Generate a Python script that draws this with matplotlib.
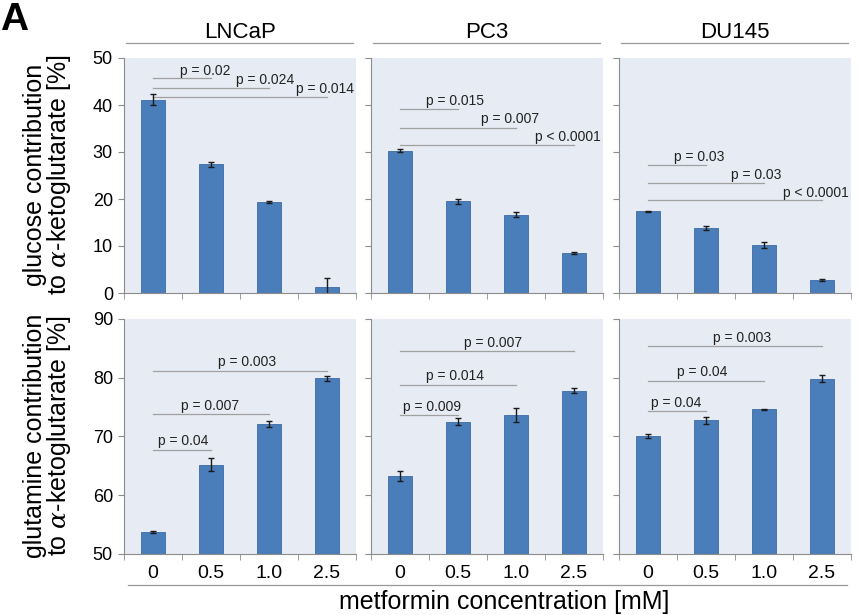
#import libraries
import numpy as np
import matplotlib
matplotlib.use("Agg")
import matplotlib.pyplot as plt
from matplotlib.lines import Line2D

plt.rcParams['font.family'] = ['Liberation Sans', 'DejaVu Sans']
plt.rcParams['mathtext.fontset'] = 'custom'
plt.rcParams['mathtext.it'] = 'DejaVu Serif:italic'

#data
cell_lines = ['LNCaP', 'PC3', 'DU145']
concentrations = ['0', '0.5', '1.0', '2.5']

glucose_lncap = [41.1, 27.4, 19.4, 1.3]
glucose_pc3 = [30.3, 19.5, 16.7, 8.5]
glucose_du145 = [17.4, 13.8, 10.2, 2.8]
glucose_err_lncap = [1.2, 0.5, 0.15, 1.9]
glucose_err_pc3 = [0.25, 0.6, 0.45, 0.25]
glucose_err_du145 = [0.15, 0.4, 0.7, 0.2]

glutamine_lncap = [53.7, 65.2, 72.2, 79.9]
glutamine_pc3 = [63.3, 72.5, 73.7, 77.8]
glutamine_du145 = [70.1, 72.8, 74.6, 79.8]
glutamine_err_lncap = [0.15, 1.1, 0.5, 0.4]
glutamine_err_pc3 = [0.8, 0.6, 1.2, 0.4]
glutamine_err_du145 = [0.4, 0.6, 0.15, 0.6]

#p values, compared against 0 mM
p_glucose_lncap = ['p = 0.02', 'p = 0.024', 'p = 0.014']
p_glucose_pc3 = ['p = 0.015', 'p = 0.007', 'p < 0.0001']
p_glucose_du145 = ['p = 0.03', 'p = 0.03', 'p < 0.0001']
p_glutamine_lncap = ['p = 0.04', 'p = 0.007', 'p = 0.003']
p_glutamine_pc3 = ['p = 0.009', 'p = 0.014', 'p = 0.007']
p_glutamine_du145 = ['p = 0.04', 'p = 0.04', 'p = 0.003']

#layout of the bracket lines: (line y, text x, text y) for comparisons vs bar 1, 2, 3
sig_layout = {
    (0, 0): [(45.7, 0.90, 47.3), (43.7, 1.93, 45.3), (41.8, 2.97, 43.4)],
    (0, 1): [(39.1, 0.95, 40.9), (35.2, 1.90, 37.0), (31.5, 2.90, 33.1)],
    (0, 2): [(27.3, 0.88, 29.0), (23.5, 1.86, 25.1), (19.7, 2.90, 21.3)],
    (1, 0): [(67.7, 0.52, 69.2), (73.8, 0.98, 75.2), (81.1, 1.62, 82.6)],
    (1, 1): [(73.7, 0.55, 75.0), (78.8, 0.95, 80.3), (84.6, 1.60, 86.0)],
    (1, 2): [(74.3, 0.48, 75.7), (79.5, 0.93, 81.0), (85.4, 1.62, 86.8)],
}

means = [[glucose_lncap, glucose_pc3, glucose_du145],
         [glutamine_lncap, glutamine_pc3, glutamine_du145]]
errs = [[glucose_err_lncap, glucose_err_pc3, glucose_err_du145],
        [glutamine_err_lncap, glutamine_err_pc3, glutamine_err_du145]]
pvals = [[p_glucose_lncap, p_glucose_pc3, p_glucose_du145],
         [p_glutamine_lncap, p_glutamine_pc3, p_glutamine_du145]]

W, H = 858, 615
fig = plt.figure(figsize=(W / 100, H / 100), dpi=100)

lefts = [124, 371, 619]
tops = [58, 319]
aw, ah = 232, 235
ylims = [(0, 50), (50, 90)]
bg = '#e7ebf3'
barcol = '#4a7ebb'
axcol = '#8c8c8c'

x = np.arange(len(concentrations))
for r in range(2):
    for c in range(3):
        ax = fig.add_axes([lefts[c] / W, 1 - (tops[r] + ah) / H, aw / W, ah / H])
        ax.set_facecolor(bg)
        ax.bar(x, means[r][c], width=0.4, color=barcol, edgecolor='#3b6aa3', linewidth=0.6, zorder=2)
        ax.errorbar(x, means[r][c], yerr=errs[r][c], fmt='none', ecolor='#1a1a1a',
                    elinewidth=1, capsize=2, capthick=1, zorder=3)
        for i, (ly, tx, ty) in enumerate(sig_layout[(r, c)]):
            ax.plot([0, i + 1], [ly, ly], color='#a0a0a0', lw=0.9, zorder=1)
            ax.text(tx, ty, pvals[r][c][i], ha='center', va='center', fontsize=10, color='#222222')
        ax.set_xlim(-0.5, 3.5)
        ax.set_ylim(*ylims[r])
        ax.set_yticks(np.arange(ylims[r][0], ylims[r][1] + 1, 10))
        ax.set_xticks(x)
        ax.set_xticks(np.arange(-0.5, 4, 1), minor=True)
        ax.tick_params(axis='x', which='major', length=0, pad=8, labelsize=14)
        ax.tick_params(axis='x', which='minor', length=4, color=axcol, direction='out')
        ax.tick_params(axis='y', length=4, color=axcol, direction='out', labelsize=13, pad=4)
        if r == 1:
            ax.set_xticklabels(concentrations)
        else:
            ax.set_xticklabels([])
        if c != 0:
            ax.set_yticklabels([])
        for s in ['top', 'right']:
            ax.spines[s].set_visible(False)
        for s in ['left', 'bottom']:
            ax.spines[s].set_color(axcol)
            ax.spines[s].set_linewidth(0.8)

#cell line titles with lines underneath
for c in range(3):
    cx = (lefts[c] + aw / 2) / W
    fig.text(cx, 1 - 32 / H, cell_lines[c], ha='center', va='center', fontsize=16)
    fig.add_artist(Line2D([(lefts[c] + 2) / W, (lefts[c] + aw - 3) / W], [1 - 43 / H] * 2,
                          color='#999999', lw=0.9))

#line above the x axis title
fig.add_artist(Line2D([128 / W, 847 / W], [1 - 585 / H] * 2, color='#999999', lw=0.9))
fig.text(504 / W, 1 - 602 / H, 'metformin concentration [mM]', ha='center', va='center', fontsize=18)

fig.text(48 / W, 1 - 175 / H, 'glucose contribution\nto $\\mathit{\\alpha}$-ketoglutarate [%]',
         rotation=90, ha='center', va='center', fontsize=18, linespacing=0.95)
fig.text(48 / W, 1 - 436 / H, 'glutamine contribution\nto $\\mathit{\\alpha}$-ketoglutarate [%]',
         rotation=90, ha='center', va='center', fontsize=18, linespacing=0.95)

fig.text(0 / W, 1 - 20 / H, 'A', fontsize=28, fontweight='bold', ha='left', va='center')

fig.savefig('out.png', dpi=100)
